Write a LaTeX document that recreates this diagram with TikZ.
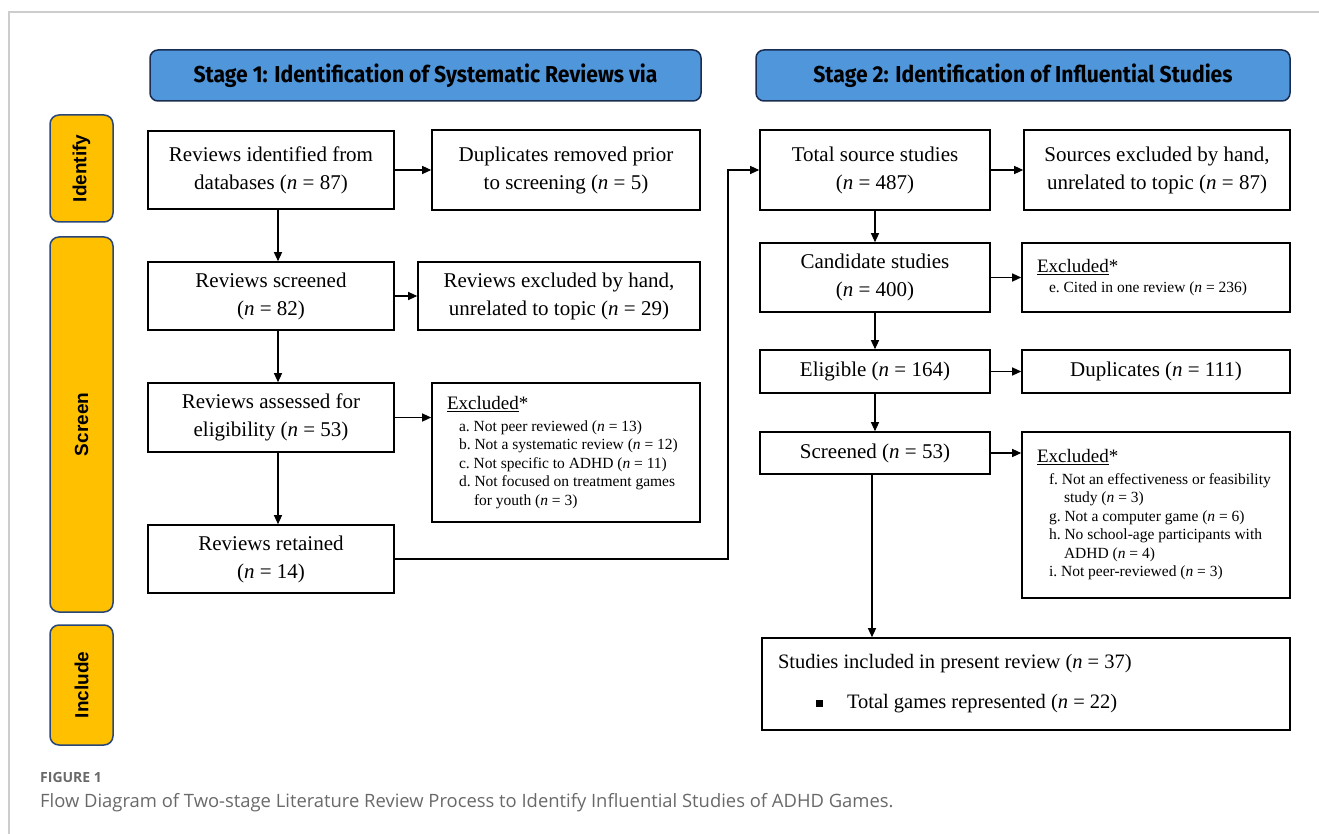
\documentclass[tikz,border=0pt]{standalone}
\usepackage{fontspec}
\setmainfont{Liberation Serif}
\newfontfamily\headfont[FakeStretch=0.92]{Fira Sans}
\newfontfamily\sidefont{Liberation Sans}
\newfontfamily\capfont{Open Sans}
\usetikzlibrary{arrows.meta}
\definecolor{headblue}{RGB}{80,150,219}
\definecolor{navy}{RGB}{25,45,80}
\definecolor{sideyellow}{RGB}{255,192,0}
\definecolor{sideborder}{RGB}{40,70,120}
\definecolor{capgray}{RGB}{105,105,105}
\definecolor{framegray}{RGB}{205,205,205}
\newcommand{\exhead}{\fontsize{19}{22}\selectfont}
\newcommand{\exitem}{\fontsize{15.5}{18.5}\selectfont\leftskip=12pt}
\newcommand{\nn}{\textit{n}}
\begin{document}
\begin{tikzpicture}[x=1pt,y=-1pt,
  box/.style={draw, line width=1.6pt, rectangle, align=center, inner sep=2pt,
    font=\fontsize{21}{28}\selectfont},
  exbox/.style={draw, line width=1.6pt, rectangle, align=flush left, inner xsep=15pt, inner ysep=4pt},
  head/.style={draw=navy, line width=1.5pt, fill=headblue, rounded corners=8pt,
    font=\headfont\bfseries\fontsize{23}{26}\selectfont},
  side/.style={draw=sideborder, line width=1.5pt, fill=sideyellow, rounded corners=9pt,
    rotate=90, font=\sidefont\bfseries\fontsize{19}{22}\selectfont},
  arr/.style={line width=1.2pt, -{Triangle[length=9pt,width=8pt]}},
  captext/.style={anchor=base west, text=capgray, inner sep=0pt}
]
\useasboundingbox (0,0) rectangle (1319,834);
\draw[framegray, line width=1.3pt] (9,834) -- (9,12) -- (1319,12);

% headers
\node[head, minimum width=551, minimum height=51] (h1) at (425.5,75.5) {Stage 1: Identification of Systematic Reviews via};
\node[head, minimum width=534, minimum height=51] (h2) at (1023,75.5) {Stage 2: Identification of Influential Studies};

% side labels
\node[side, minimum width=107, minimum height=63] (s1) at (81.5,168.5) {Identify};
\node[side, minimum width=375, minimum height=63] (s2) at (81.5,424.5) {Screen};
\node[side, minimum width=120, minimum height=63] (s3) at (81.5,685) {Include};

% stage 1
\node[box, minimum width=246, minimum height=78] (A1) at (271,170) {Reviews identified from\\databases (\nn{} = 87)};
\node[box, minimum width=268, minimum height=80] (B1) at (566,170) {Duplicates removed prior\\to screening (\nn{} = 5)};
\node[box, minimum width=246, minimum height=68] (A2) at (271,296) {Reviews screened\\(\nn{} = 82)};
\node[box, minimum width=282, minimum height=68] (B2) at (559,296) {Reviews excluded by hand,\\unrelated to topic (\nn{} = 29)};
\node[box, minimum width=246, minimum height=69] (A3) at (271,417.5) {Reviews assessed for\\eligibility (\nn{} = 53)};
\node[exbox, minimum width=268, minimum height=139, text width=238] (B3) at (566,452.5)
  {{\exhead\underline{Excluded}*\par}\vspace{3pt}
   {\exitem a.\ Not peer reviewed (\nn{} = 13)\\
   b.\ Not a systematic review (\nn{} = 12)\\
   c.\ Not specific to ADHD (\nn{} = 11)\\
   d.\ Not focused on treatment games\\
   \hspace*{15pt}for youth (\nn{} = 3)\par}};
\node[box, minimum width=246, minimum height=68] (A4) at (271,559) {Reviews retained\\(\nn{} = 14)};

% stage 2
\node[box, minimum width=230, minimum height=80] (C1) at (875,170) {Total source studies\\(\nn{} = 487)};
\node[box, minimum width=266, minimum height=80] (D1) at (1157,170) {Sources excluded by hand,\\unrelated to topic (\nn{} = 87)};
\node[box, minimum width=230, minimum height=69] (C2) at (875,277.5) {Candidate studies\\(\nn{} = 400)};
\node[exbox, minimum width=268, minimum height=69, text width=238] (D2) at (1156,277.5)
  {{\exhead\underline{Excluded}*\par}\vspace{2pt}
   {\exitem e.\ Cited in one review (\nn{} = 236)\par}};
\node[box, minimum width=230, minimum height=43] (C3) at (875,371.5) {Eligible (\nn{} = 164)};
\node[box, minimum width=268, minimum height=43] (D3) at (1156,371.5) {Duplicates (\nn{} = 111)};
\node[box, minimum width=230, minimum height=42] (C4) at (875,453) {Screened (\nn{} = 53)};
\node[exbox, minimum width=268, minimum height=166, text width=238] (D4) at (1156,515)
  {{\exhead\underline{Excluded}*\par}\vspace{3pt}
   {\exitem f.\ Not an effectiveness or feasibility\\
   \hspace*{15pt}study (\nn{} = 3)\\
   g.\ Not a computer game (\nn{} = 6)\\
   h.\ No school-age participants with\\
   \hspace*{15pt}ADHD (\nn{} = 4)\\
   i.\ Not peer-reviewed (\nn{} = 3)\par}};
\node[box, align=flush left, minimum width=528, minimum height=92, text width=496, inner xsep=16pt,
  font=\fontsize{20.5}{40}\selectfont] (E) at (1026,684)
  {Studies included in present review (\nn{} = 37)\\
   \hspace*{38pt}\rule[2pt]{7pt}{7pt}\hspace*{24pt}Total games represented (\nn{} = 22)};

% connectors stage 1
\draw[arr] (A1.east) -- (B1.west);
\draw[arr] (A2.east) -- (B2.west);
\draw[arr] (A3.east) -- (A3.east -| B3.west);
\coordinate (x1) at (278,0);
\draw[arr] (x1 |- A1.south) -- (x1 |- A2.north);
\draw[arr] (x1 |- A2.south) -- (x1 |- A3.north);
\draw[arr] (x1 |- A3.south) -- (x1 |- A4.north);
\coordinate (bend) at (728,0);
\draw[arr] (A4.east) -| (bend |- C1.west) -- (C1.west);

% connectors stage 2
\draw[arr] (C1.east) -- (D1.west);
\draw[arr] (C2.east) -- (D2.west);
\draw[arr] (C3.east) -- (D3.west);
\draw[arr] (C4.east) -- (D4.west |- C4.east);
\draw[arr] (C1.south) -- (C2.north);
\draw[arr] (C2.south) -- (C3.north);
\draw[arr] (C3.south) -- (C4.north);
\coordinate (x2) at (872,0);
\draw[arr] (x2 |- C4.south) -- (x2 |- E.north);

% caption
\node[captext, font=\capfont\bfseries\fontsize{14}{16}\selectfont] (fig) at (40,782) {FIGURE 1};
\node[captext, font=\capfont\fontsize{18.4}{21}\selectfont] (caption) at (40,807) {Flow Diagram of Two-stage Literature Review Process to Identify Influential Studies of ADHD Games.};
\end{tikzpicture}
\end{document}
